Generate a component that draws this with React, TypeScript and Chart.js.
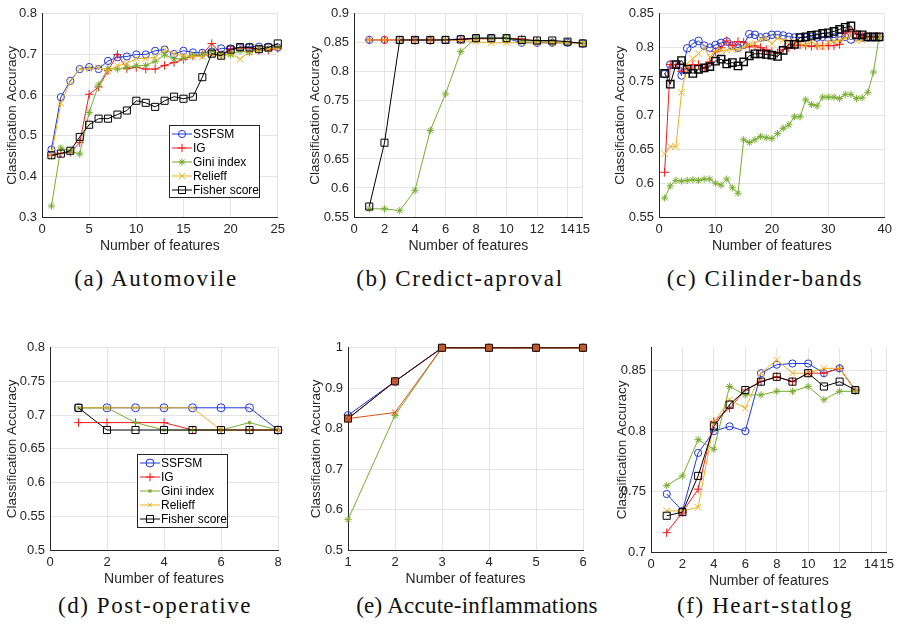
import React, { useEffect, useRef } from "react";
import { Chart, registerables } from "chart.js";
import { drawPoint } from "chart.js/helpers";

Chart.register(...registerables);

// ---------- data ----------
const seriesNames = ["SSFSM", "IG", "Gini index", "Relieff", "Fisher score"];

// (a) Automovile
const autoSSFSM = [0.466, 0.595, 0.635, 0.664, 0.669, 0.664, 0.684, 0.693, 0.695, 0.700, 0.700, 0.709, 0.712, 0.701, 0.709, 0.705, 0.704, 0.707, 0.715, 0.715, 0.717, 0.719, 0.719, 0.719, 0.717];
const autoIG = [0.452, 0.457, 0.459, 0.483, 0.602, 0.620, 0.660, 0.700, 0.665, 0.668, 0.664, 0.664, 0.673, 0.680, 0.688, 0.696, 0.700, 0.727, 0.700, 0.712, 0.715, 0.716, 0.710, 0.711, 0.715];
const autoGini = [0.327, 0.470, 0.462, 0.455, 0.557, 0.625, 0.665, 0.664, 0.668, 0.672, 0.673, 0.683, 0.699, 0.689, 0.690, 0.698, 0.700, 0.708, 0.700, 0.699, 0.709, 0.704, 0.713, 0.714, 0.718];
const autoRelieff = [0.452, 0.580, 0.633, 0.664, 0.665, 0.668, 0.660, 0.672, 0.678, 0.690, 0.690, 0.693, 0.712, 0.702, 0.697, 0.695, 0.695, 0.700, 0.696, 0.702, 0.688, 0.707, 0.713, 0.714, 0.716];
const autoFisher = [0.452, 0.456, 0.463, 0.497, 0.527, 0.542, 0.542, 0.552, 0.562, 0.586, 0.581, 0.571, 0.586, 0.596, 0.591, 0.596, 0.644, 0.702, 0.697, 0.712, 0.718, 0.717, 0.713, 0.717, 0.727];

// (b) Credict-aproval
const credSSFSM = [0.855, 0.855, 0.855, 0.854, 0.854, 0.855, 0.857, 0.858, 0.858, 0.858, 0.850, 0.850, 0.850, 0.850, 0.849];
const credIG = [0.855, 0.855, 0.855, 0.855, 0.855, 0.855, 0.855, 0.857, 0.857, 0.858, 0.857, 0.853, 0.851, 0.851, 0.849];
const credGini = [0.564, 0.564, 0.561, 0.596, 0.699, 0.762, 0.835, 0.858, 0.858, 0.858, 0.853, 0.853, 0.851, 0.851, 0.849];
const credRelieff = [0.855, 0.855, 0.855, 0.855, 0.855, 0.855, 0.854, 0.852, 0.850, 0.850, 0.850, 0.850, 0.850, 0.850, 0.849];
const credFisher = [0.568, 0.678, 0.855, 0.855, 0.855, 0.855, 0.856, 0.858, 0.858, 0.858, 0.855, 0.854, 0.854, 0.852, 0.849];

// (c) Cilinder-bands
const cylSSFSM = [0.761, 0.775, 0.775, 0.759, 0.799, 0.806, 0.810, 0.803, 0.800, 0.804, 0.807, 0.809, 0.803, 0.800, 0.804, 0.820, 0.819, 0.815, 0.816, 0.819, 0.819, 0.818, 0.816, 0.815, 0.815, 0.815, 0.816, 0.815, 0.816, 0.815, 0.815, 0.816, 0.816, 0.812, 0.816, 0.815, 0.815, 0.815, 0.815];
const cylIG = [0.616, 0.775, 0.775, 0.765, 0.769, 0.775, 0.775, 0.770, 0.779, 0.794, 0.800, 0.810, 0.803, 0.809, 0.808, 0.801, 0.803, 0.800, 0.797, 0.794, 0.792, 0.797, 0.800, 0.803, 0.804, 0.803, 0.802, 0.803, 0.803, 0.803, 0.803, 0.805, 0.822, 0.824, 0.820, 0.817, 0.816, 0.816, 0.816];
const cylGini = [0.578, 0.596, 0.604, 0.603, 0.604, 0.605, 0.604, 0.606, 0.606, 0.600, 0.597, 0.606, 0.593, 0.585, 0.664, 0.660, 0.664, 0.669, 0.667, 0.666, 0.673, 0.681, 0.686, 0.698, 0.698, 0.723, 0.716, 0.714, 0.727, 0.727, 0.727, 0.725, 0.731, 0.731, 0.725, 0.726, 0.734, 0.764, 0.816];
const cylRelieff = [0.643, 0.654, 0.654, 0.734, 0.776, 0.784, 0.791, 0.800, 0.786, 0.795, 0.796, 0.796, 0.798, 0.797, 0.801, 0.805, 0.806, 0.813, 0.813, 0.806, 0.814, 0.811, 0.809, 0.810, 0.806, 0.804, 0.809, 0.803, 0.801, 0.808, 0.810, 0.811, 0.814, 0.817, 0.810, 0.811, 0.816, 0.816, 0.816];
const cylFisher = [0.762, 0.746, 0.775, 0.781, 0.768, 0.762, 0.768, 0.770, 0.772, 0.780, 0.783, 0.776, 0.778, 0.773, 0.779, 0.788, 0.791, 0.791, 0.790, 0.789, 0.787, 0.796, 0.805, 0.805, 0.815, 0.816, 0.818, 0.819, 0.821, 0.822, 0.824, 0.827, 0.830, 0.832, 0.819, 0.819, 0.816, 0.816, 0.816];

// (d) Post-operative
const postSSFSM = [0.711, 0.711, 0.711, 0.711, 0.711, 0.711, 0.711, 0.678];
const postIG = [0.689, 0.689, 0.689, 0.689, 0.678, 0.678, 0.678, 0.678];
const postGini = [0.711, 0.711, 0.689, 0.678, 0.678, 0.678, 0.689, 0.678];
const postRelieff = [0.711, 0.711, 0.711, 0.711, 0.711, 0.678, 0.678, 0.678];
const postFisher = [0.711, 0.678, 0.678, 0.678, 0.678, 0.678, 0.678, 0.678];

// (e) Accute-inflammations
const acuteSSFSM = [0.833, 0.917, 1, 1, 1, 1];
const acuteIG = [0.825, 0.917, 1, 1, 1, 1];
const acuteGini = [0.575, 0.833, 1, 1, 1, 1];
const acuteRelieff = [0.825, 0.840, 1, 1, 1, 1];
const acuteFisher = [0.825, 0.917, 1, 1, 1, 1];

// (f) Heart-statlog
const heartSSFSM = [0.748, 0.734, 0.782, 0.800, 0.804, 0.800, 0.848, 0.855, 0.856, 0.856, 0.848, 0.852, 0.834];
const heartIG = [0.716, 0.733, 0.752, 0.808, 0.819, 0.834, 0.841, 0.845, 0.841, 0.848, 0.848, 0.852, 0.834];
const heartGini = [0.755, 0.763, 0.793, 0.785, 0.837, 0.830, 0.830, 0.833, 0.833, 0.837, 0.826, 0.833, 0.833];
const heartRelieff = [0.734, 0.734, 0.737, 0.807, 0.826, 0.819, 0.848, 0.859, 0.848, 0.848, 0.852, 0.852, 0.834];
const heartFisher = [0.730, 0.733, 0.763, 0.804, 0.822, 0.834, 0.841, 0.845, 0.841, 0.848, 0.837, 0.841, 0.834];

// tick values
const ticksA_x = [0, 5, 10, 15, 20, 25];
const ticksA_y = [0.3, 0.4, 0.5, 0.6, 0.7, 0.8];
const ticksB_x = [0, 2, 4, 6, 8, 10, 12, 14, 15];
const ticksB_y = [0.55, 0.6, 0.65, 0.7, 0.75, 0.8, 0.85, 0.9];
const ticksC_x = [0, 10, 20, 30, 40];
const ticksC_y = [0.55, 0.6, 0.65, 0.7, 0.75, 0.8, 0.85];
const ticksD_x = [0, 2, 4, 6, 8];
const ticksD_y = [0.5, 0.55, 0.6, 0.65, 0.7, 0.75, 0.8];
const ticksE_x = [1, 2, 3, 4, 5, 6];
const ticksE_y = [0.5, 0.6, 0.7, 0.8, 0.9, 1];
const ticksF_x = [0, 2, 4, 6, 8, 10, 12, 14, 15];
const ticksF_y = [0.7, 0.75, 0.8, 0.85];

// ---------- styles ----------
const BLUE = "#2139d8";
const RED = "#ee1c1c";
const GREEN = "#77ac30";
const YELLOW = "#edb120";
const ORANGE = "#d95319";
const BLACK = "#000000";
const GRID = "#e4e4e4";
const AXIS = "#262626";
const SANS = "'Liberation Sans', Arial, sans-serif";

type Mark = { color: string; style: string; radius: number; fill?: string; bw?: number };

const stdMarks: Mark[] = [
  { color: BLUE, style: "circle", radius: 3.6 },
  { color: RED, style: "cross", radius: 4.2 },
  { color: GREEN, style: "star", radius: 3.6 },
  { color: YELLOW, style: "crossRot", radius: 4.6 },
  { color: BLACK, style: "rect", radius: 5 },
];
const cylMarks: Mark[] = [
  { color: BLUE, style: "circle", radius: 3.8 },
  { color: RED, style: "cross", radius: 4.4 },
  { color: GREEN, style: "star", radius: 3.6 },
  { color: YELLOW, style: "crossRot", radius: 4.6 },
  { color: BLACK, style: "rect", radius: 5.2, bw: 1.4 },
];
const postMarks: Mark[] = [
  { color: BLUE, style: "circle", radius: 4 },
  { color: RED, style: "cross", radius: 4.2 },
  { color: GREEN, style: "star", radius: 2 },
  { color: YELLOW, style: "crossRot", radius: 2.6 },
  { color: BLACK, style: "rect", radius: 5 },
];
const acuteMarks: Mark[] = [
  { color: BLUE, style: "circle", radius: 3.8 },
  { color: RED, style: "cross", radius: 4 },
  { color: GREEN, style: "star", radius: 3.6 },
  { color: ORANGE, style: "crossRot", radius: 4.4 },
  { color: "#1e0808", style: "rect", radius: 5, fill: "#c25a26" },
];

type LegendBox = { x: number; y: number; w: number; h: number; first: number; step: number };

type PanelCfg = {
  id: string;
  cx: number;
  L: number; T: number; R: number; B: number;
  xMin: number; xMax: number; xTicks: number[];
  yMin: number; yMax: number; yTicks: number[];
  yTitleX: number;
  values: number[][];
  marks: Mark[];
  legend?: LegendBox;
  caption: string;
  capX: number; capY: number; capSpacing: number;
};

const PAD_TOP = 8;
const PAD_RIGHT = 12;
const X_H = 38;

const panels: PanelCfg[] = [
  {
    id: "a", cx: 0, L: 42, T: 9, R: 278, B: 217,
    xMin: 0, xMax: 25, xTicks: ticksA_x, yMin: 0.3, yMax: 0.8, yTicks: ticksA_y,
    yTitleX: 12, values: [autoSSFSM, autoIG, autoGini, autoRelieff, autoFisher], marks: stdMarks,
    legend: { x: 169, y: 124, w: 90, h: 72, first: 9, step: 14 },
    caption: "(a) Automovile", capX: 156, capY: 278, capSpacing: 1.7,
  },
  {
    id: "b", cx: 300, L: 354, T: 9, R: 583, B: 217,
    xMin: 0, xMax: 15, xTicks: ticksB_x, yMin: 0.55, yMax: 0.9, yTicks: ticksB_y,
    yTitleX: 315, values: [credSSFSM, credIG, credGini, credRelieff, credFisher], marks: stdMarks,
    caption: "(b) Credict-aproval", capX: 460, capY: 278, capSpacing: 1.6,
  },
  {
    id: "c", cx: 600, L: 659, T: 9, R: 885, B: 217,
    xMin: 0, xMax: 40, xTicks: ticksC_x, yMin: 0.55, yMax: 0.85, yTicks: ticksC_y,
    yTitleX: 620, values: [cylSSFSM, cylIG, cylGini, cylRelieff, cylFisher], marks: cylMarks,
    caption: "(c) Cilinder-bands", capX: 765, capY: 278, capSpacing: 1.6,
  },
  {
    id: "d", cx: 0, L: 50, T: 343, R: 278, B: 550,
    xMin: 0, xMax: 8, xTicks: ticksD_x, yMin: 0.5, yMax: 0.8, yTicks: ticksD_y,
    yTitleX: 12, values: [postSSFSM, postIG, postGini, postRelieff, postFisher], marks: postMarks,
    legend: { x: 137, y: 119, w: 90, h: 73, first: 9, step: 14 },
    caption: "(d) Post-operative", capX: 155, capY: 605, capSpacing: 1.6,
  },
  {
    id: "e", cx: 300, L: 348, T: 343, R: 583, B: 550,
    xMin: 1, xMax: 6, xTicks: ticksE_x, yMin: 0.5, yMax: 1, yTicks: ticksE_y,
    yTitleX: 316, values: [acuteSSFSM, acuteIG, acuteGini, acuteRelieff, acuteFisher], marks: acuteMarks,
    caption: "(e) Accute-inflammations", capX: 477, capY: 605, capSpacing: 0.25,
  },
  {
    id: "f", cx: 600, L: 651, T: 343, R: 887, B: 552,
    xMin: 0, xMax: 15, xTicks: ticksF_x, yMin: 0.7, yMax: 0.869, yTicks: ticksF_y,
    yTitleX: 622, values: [heartSSFSM, heartIG, heartGini, heartRelieff, heartFisher], marks: stdMarks,
    caption: "(f) Heart-statlog", capX: 765, capY: 605, capSpacing: 1.6,
  },
];

const fmt = (v: number) => String(+Number(v).toFixed(3));

const boxLegend = {
  id: "boxLegend",
  afterDraw(chart: any, _args: any, opts: any) {
    if (!opts || !opts.box) return;
    const { x, y, w, h, first, step } = opts.box as LegendBox;
    const ctx = chart.ctx as CanvasRenderingContext2D;
    ctx.save();
    ctx.fillStyle = "#ffffff";
    ctx.fillRect(x, y, w, h);
    ctx.strokeStyle = AXIS;
    ctx.lineWidth = 1;
    ctx.strokeRect(x + 0.5, y + 0.5, w, h);
    chart.data.datasets.forEach((d: any, i: number) => {
      const cy = y + first + i * step;
      ctx.strokeStyle = d.borderColor;
      ctx.lineWidth = 1;
      ctx.beginPath();
      ctx.moveTo(x + 3, cy);
      ctx.lineTo(x + 23, cy);
      ctx.stroke();
      ctx.fillStyle = d.pointBackgroundColor;
      ctx.strokeStyle = d.pointBorderColor;
      ctx.lineWidth = d.pointBorderWidth;
      drawPoint(ctx, { pointStyle: d.pointStyle, radius: d.pointRadius, borderWidth: d.pointBorderWidth, rotation: 0 } as any, x + 13, cy);
      ctx.fillStyle = "#000";
      ctx.font = `12px ${SANS}`;
      ctx.textBaseline = "middle";
      ctx.textAlign = "left";
      ctx.fillText(d.label, x + 24, cy + 0.5);
    });
    ctx.restore();
  },
};

function Panel({ cfg }: { cfg: PanelCfg }) {
  const ref = useRef<HTMLCanvasElement>(null);
  const top = cfg.T - PAD_TOP;
  const width = cfg.R - cfg.cx + PAD_RIGHT;
  const height = cfg.B - top + X_H;
  const yW = cfg.L - cfg.cx;

  useEffect(() => {
    if (!ref.current) return;
    const datasets = cfg.values.map((vals, i) => {
      const m = cfg.marks[i];
      const hollow = m.style === "circle" || m.style === "rect";
      return {
        label: seriesNames[i],
        data: vals.map((v, k) => ({ x: k + 1, y: v })),
        borderColor: m.color,
        backgroundColor: m.color,
        borderWidth: 1,
        pointStyle: m.style,
        pointRadius: m.radius,
        pointHoverRadius: m.radius,
        pointBorderColor: m.color,
        pointBorderWidth: m.bw ?? 1,
        pointBackgroundColor: m.fill ?? (hollow ? "rgba(255,255,255,0)" : m.color),
        tension: 0,
        fill: false,
        clip: false as any,
        order: 4 - i,
      };
    });
    const tickFont = { family: SANS, size: 13 };
    const xTitleFont = { family: SANS, size: 14 };
    const chart = new Chart(ref.current, {
      type: "line",
      data: { datasets },
      plugins: [boxLegend],
      options: {
        animation: false,
        responsive: false,
        events: [],
        layout: { padding: { top: PAD_TOP, right: PAD_RIGHT, left: 0, bottom: 0 } },
        plugins: {
          legend: { display: false },
          tooltip: { enabled: false },
          boxLegend: { box: cfg.legend },
        } as any,
        scales: {
          x: {
            type: "linear",
            min: cfg.xMin,
            max: cfg.xMax,
            afterBuildTicks: (s: any) => { s.ticks = cfg.xTicks.map((v) => ({ value: v })); },
            afterFit: (s: any) => { s.height = X_H; },
            grid: { color: GRID, lineWidth: 1, drawTicks: false },
            border: { display: true, color: AXIS, width: 1 },
            ticks: { padding: 5, font: tickFont, color: AXIS, autoSkip: false, maxRotation: 0, callback: (v: any) => fmt(v) },
            title: { display: true, text: "Number of features", font: xTitleFont, color: AXIS, padding: { top: 0, bottom: 0 } },
          },
          y: {
            type: "linear",
            min: cfg.yMin,
            max: cfg.yMax,
            afterBuildTicks: (s: any) => { s.ticks = cfg.yTicks.map((v) => ({ value: v })); },
            afterFit: (s: any) => { s.width = yW; },
            grid: { color: GRID, lineWidth: 1, drawTicks: false },
            border: { display: true, color: AXIS, width: 1 },
            ticks: { padding: 5, font: tickFont, color: AXIS, autoSkip: false, callback: (v: any) => fmt(v) },
            title: {
              display: true, text: "Classification Accuracy", font: { family: SANS, size: 13.5 }, color: AXIS,
              padding: { top: cfg.yTitleX - cfg.cx - 8.1, bottom: 0 },
            },
          },
        },
      } as any,
    });
    return () => chart.destroy();
  }, []);

  return (
    <>
      <canvas
        ref={ref}
        width={width}
        height={height}
        style={{ position: "absolute", left: cfg.cx, top, width, height }}
      />
      <div
        style={{
          position: "absolute",
          left: cfg.capX,
          top: cfg.capY,
          transform: "translate(-50%, -50%)",
          whiteSpace: "nowrap",
          fontFamily: "'Liberation Serif', 'DejaVu Serif', serif",
          fontSize: 23,
          letterSpacing: cfg.capSpacing,
          lineHeight: 1,
          color: "#111",
        }}
      >
        {cfg.caption}
      </div>
    </>
  );
}

export default function App() {
  return (
    <div style={{ position: "fixed", left: 0, top: 0, width: 898, height: 624, background: "#fff", overflow: "hidden" }}>
      {panels.map((p) => (
        <Panel key={p.id} cfg={p} />
      ))}
    </div>
  );
}
